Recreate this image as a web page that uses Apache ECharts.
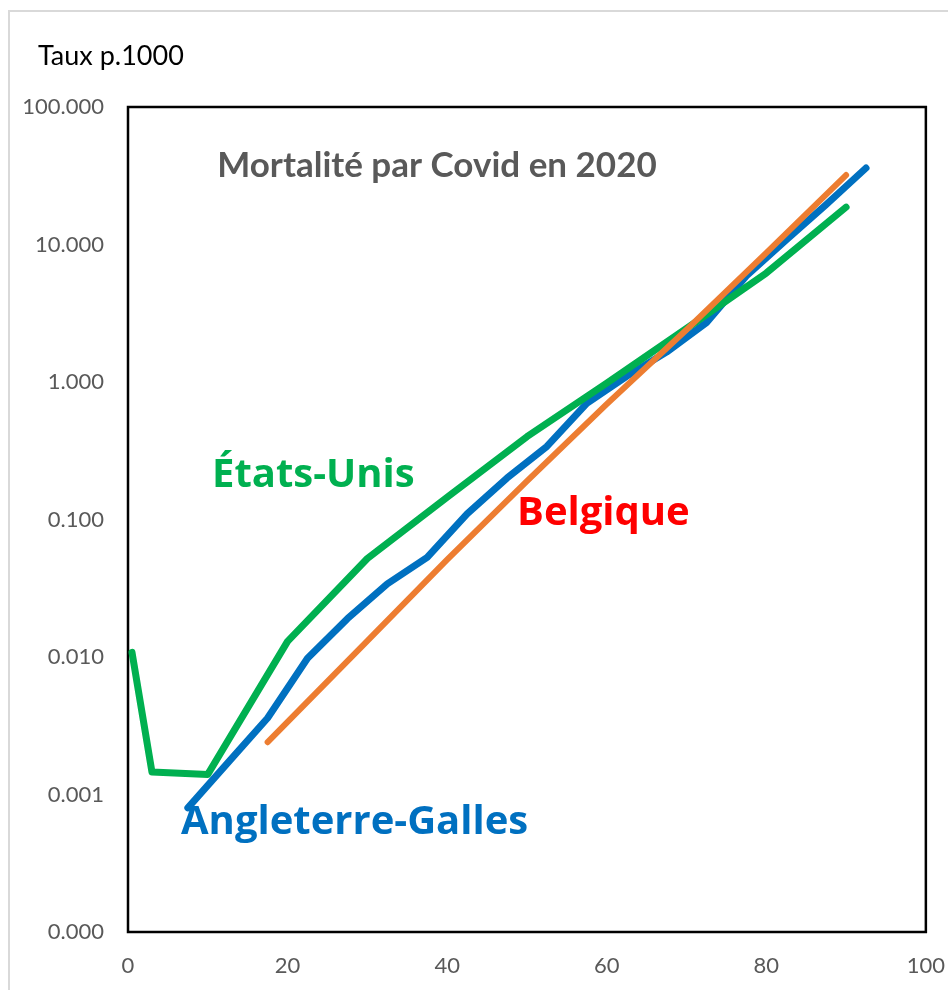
<!DOCTYPE html>
<html>
<head>
<meta charset="utf-8">
<script src="https://cdn.jsdelivr.net/npm/echarts@6/dist/echarts.min.js"></script>
<style>
  html, body { margin: 0; padding: 0; background: #fff; }
  #chart { width: 948px; height: 990px; }
</style>
</head>
<body>
<div id="chart"></div>
<script>
// âge (x) et taux de mortalité p.1000 (y, échelle log)
const ageUS = [0.5, 3, 10, 20, 30, 40, 50, 60, 70, 80, 90];
const tauxUS = [0.0108, 0.00146, 0.0014, 0.013, 0.052, 0.145, 0.40, 0.98, 2.45, 6.2, 18.7];

const ageEW = [7.5, 12.5, 17.5, 22.5, 27.5, 32.5, 37.5, 42.5, 47.5, 52.5, 57.5, 62.5, 67.5, 72.5, 77.5, 82.5, 87.5, 92.5];
const tauxEW = [0.0008, 0.0017, 0.0036, 0.0098, 0.019, 0.034, 0.053, 0.11, 0.20, 0.34, 0.70, 1.1, 1.65, 2.7, 5.9, 10.8, 19.5, 36];

const ageBE = [17.5, 30, 40, 50, 60, 70, 80, 90];
const tauxBE = [0.0024, 0.0131, 0.051, 0.19, 0.69, 2.4, 8.7, 32];

const xTicks = [0, 20, 40, 60, 80, 100];

const pairs = (xs, ys) => xs.map((x, i) => [x, ys[i]]);

const FONT = 'Lato, "Open Sans", sans-serif';
const LABEL_FONT = '"Open Sans", Lato, sans-serif';

let myChart = echarts.init(document.getElementById('chart'));
myChart.setOption({
  animation: false,
  backgroundColor: '#fff',
  grid: {
    left: 128,
    right: 22,
    top: 107,
    bottom: 58,
    show: true,
    borderColor: '#000',
    borderWidth: 2.5
  },
  xAxis: {
    type: 'value',
    min: xTicks[0],
    max: xTicks[xTicks.length - 1],
    interval: 20,
    axisLine: { show: false },
    axisTick: { show: false },
    splitLine: { show: false },
    axisLabel: { color: '#595959', fontFamily: FONT, fontSize: 22, margin: 23 }
  },
  yAxis: {
    type: 'log',
    logBase: 10,
    min: 0.0001,
    max: 100,
    interval: 1,
    axisLine: { show: false },
    axisTick: { show: false },
    splitLine: { show: false },
    axisLabel: {
      color: '#595959', fontFamily: FONT, fontSize: 22, margin: 24,
      formatter: v => v.toFixed(3)
    }
  },
  graphic: [
    {
      type: 'rect', z: -10,
      shape: { x: 9, y: 11, width: 1000, height: 1000 },
      style: { fill: 'none', stroke: '#d9d9d9', lineWidth: 2 }
    },
    {
      type: 'text', x: 38, y: 56,
      style: { text: 'Taux p.1000', font: '27px ' + FONT, fill: '#000', align: 'left', verticalAlign: 'middle' }
    },
    {
      type: 'text', x: 437, y: 166,
      style: { text: 'Mortalité par Covid en 2020', font: 'bold 35px ' + FONT, fill: '#595959', align: 'center', verticalAlign: 'middle' }
    },
    {
      type: 'text', x: 212, y: 476,
      style: { text: 'États-Unis', font: 'bold 40px ' + LABEL_FONT, fill: '#00B050', align: 'left', verticalAlign: 'middle' }
    },
    {
      type: 'text', x: 517, y: 514,
      style: { text: 'Belgique', font: 'bold 40px ' + LABEL_FONT, fill: '#FF0000', align: 'left', verticalAlign: 'middle' }
    },
    {
      type: 'text', x: 181, y: 823,
      style: { text: 'Angleterre-Galles', font: 'bold 40px ' + LABEL_FONT, fill: '#0070C0', align: 'left', verticalAlign: 'middle' }
    }
  ],
  series: [
    {
      name: 'Angleterre-Galles',
      type: 'line',
      showSymbol: false,
      data: pairs(ageEW, tauxEW),
      lineStyle: { color: '#0070C0', width: 7, cap: 'round', join: 'round' }
    },
    {
      name: 'États-Unis',
      type: 'line',
      showSymbol: false,
      data: pairs(ageUS, tauxUS),
      lineStyle: { color: '#00B050', width: 7, cap: 'round', join: 'round' }
    },
    {
      name: 'Belgique',
      type: 'line',
      showSymbol: false,
      data: pairs(ageBE, tauxBE),
      lineStyle: { color: '#ED7D31', width: 6, cap: 'round', join: 'round' }
    }
  ]
});
</script>
</body>
</html>
